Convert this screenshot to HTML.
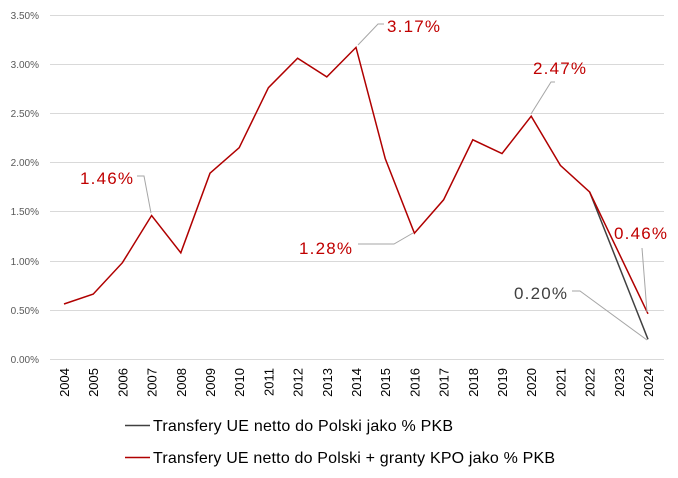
<!DOCTYPE html>
<html><head><meta charset="utf-8"><style>body{margin:0;background:#fff}svg{display:block}</style></head><body>
<svg width="678" height="478" xmlns="http://www.w3.org/2000/svg" font-family="Liberation Sans, sans-serif">
<g stroke="#d9d9d9" stroke-width="1">
<line x1="50" x2="664" y1="15.5" y2="15.5"/><line x1="50" x2="664" y1="64.5" y2="64.5"/><line x1="50" x2="664" y1="113.5" y2="113.5"/><line x1="50" x2="664" y1="162.5" y2="162.5"/><line x1="50" x2="664" y1="211.5" y2="211.5"/><line x1="50" x2="664" y1="261.5" y2="261.5"/><line x1="50" x2="664" y1="310.5" y2="310.5"/><line x1="50" x2="664" y1="359.5" y2="359.5"/>
</g>
<g font-size="10" fill="#595959" text-anchor="end">
<text x="39" y="19">3.50%</text><text x="39" y="68">3.00%</text><text x="39" y="117">2.50%</text><text x="39" y="166">2.00%</text><text x="39" y="215">1.50%</text><text x="39" y="265">1.00%</text><text x="39" y="314">0.50%</text><text x="39" y="363">0.00%</text>
</g>
<g font-size="13" fill="#000" text-anchor="end">
<text transform="translate(69,368) rotate(-90)">2004</text>
<text transform="translate(98.2,368) rotate(-90)">2005</text>
<text transform="translate(127.4,368) rotate(-90)">2006</text>
<text transform="translate(156.6,368) rotate(-90)">2007</text>
<text transform="translate(185.8,368) rotate(-90)">2008</text>
<text transform="translate(215,368) rotate(-90)">2009</text>
<text transform="translate(244.2,368) rotate(-90)">2010</text>
<text transform="translate(273.4,368) rotate(-90)">2011</text>
<text transform="translate(302.6,368) rotate(-90)">2012</text>
<text transform="translate(331.8,368) rotate(-90)">2013</text>
<text transform="translate(361,368) rotate(-90)">2014</text>
<text transform="translate(390.2,368) rotate(-90)">2015</text>
<text transform="translate(419.4,368) rotate(-90)">2016</text>
<text transform="translate(448.6,368) rotate(-90)">2017</text>
<text transform="translate(477.8,368) rotate(-90)">2018</text>
<text transform="translate(507,368) rotate(-90)">2019</text>
<text transform="translate(536.2,368) rotate(-90)">2020</text>
<text transform="translate(565.4,368) rotate(-90)">2021</text>
<text transform="translate(594.6,368) rotate(-90)">2022</text>
<text transform="translate(623.8,368) rotate(-90)">2023</text>
<text transform="translate(653,368) rotate(-90)">2024</text>
</g>
<polyline fill="none" stroke="#404040" stroke-width="1.5" points="589.6,191.9 648,339.3"/>
<polyline fill="none" stroke="#b00000" stroke-width="1.5" points="64,304 93.2,294.1 122.4,262.7 151.6,215.5 180.8,252.8 210,173.2 239.2,147.7 268.4,87.7 297.6,58.2 326.8,76.9 356,47.4 385.2,158.5 414.4,233.2 443.6,199.8 472.8,139.8 502,153.6 531.2,116.2 560.4,165.4 589.6,191.9 648,313.8"/>
<g stroke="#a6a6a6" stroke-width="1" fill="none">
<polyline points="358,45 378,24 384,24"/>
<polyline points="531,114 551,82 555,82"/>
<polyline points="151,213 144,176 137,176"/>
<polyline points="413,233 394,244 358,244"/>
<polyline points="647,312 642,248"/>
<polyline points="647,340 580,291 572,291"/>
</g>
<g font-size="17">
<text x="387" y="32" fill="#c00000" textLength="53">3.17%</text>
<text x="533" y="74" fill="#c00000" textLength="53">2.47%</text>
<text x="80" y="184" fill="#c00000" textLength="53">1.46%</text>
<text x="299" y="254" fill="#c00000" textLength="53">1.28%</text>
<text x="614" y="239" fill="#c00000" textLength="53">0.46%</text>
<text x="514" y="299" fill="#404040" textLength="53">0.20%</text>
</g>
<line x1="125" x2="150" y1="425.5" y2="425.5" stroke="#404040" stroke-width="1.5"/>
<text x="153" y="431" font-size="16" fill="#000" textLength="300">Transfery UE netto do Polski jako % PKB</text>
<line x1="125" x2="150" y1="457.5" y2="457.5" stroke="#b00000" stroke-width="1.5"/>
<text x="153" y="463" font-size="16" fill="#000" textLength="402">Transfery UE netto do Polski + granty KPO jako % PKB</text>
</svg>
</body></html>
